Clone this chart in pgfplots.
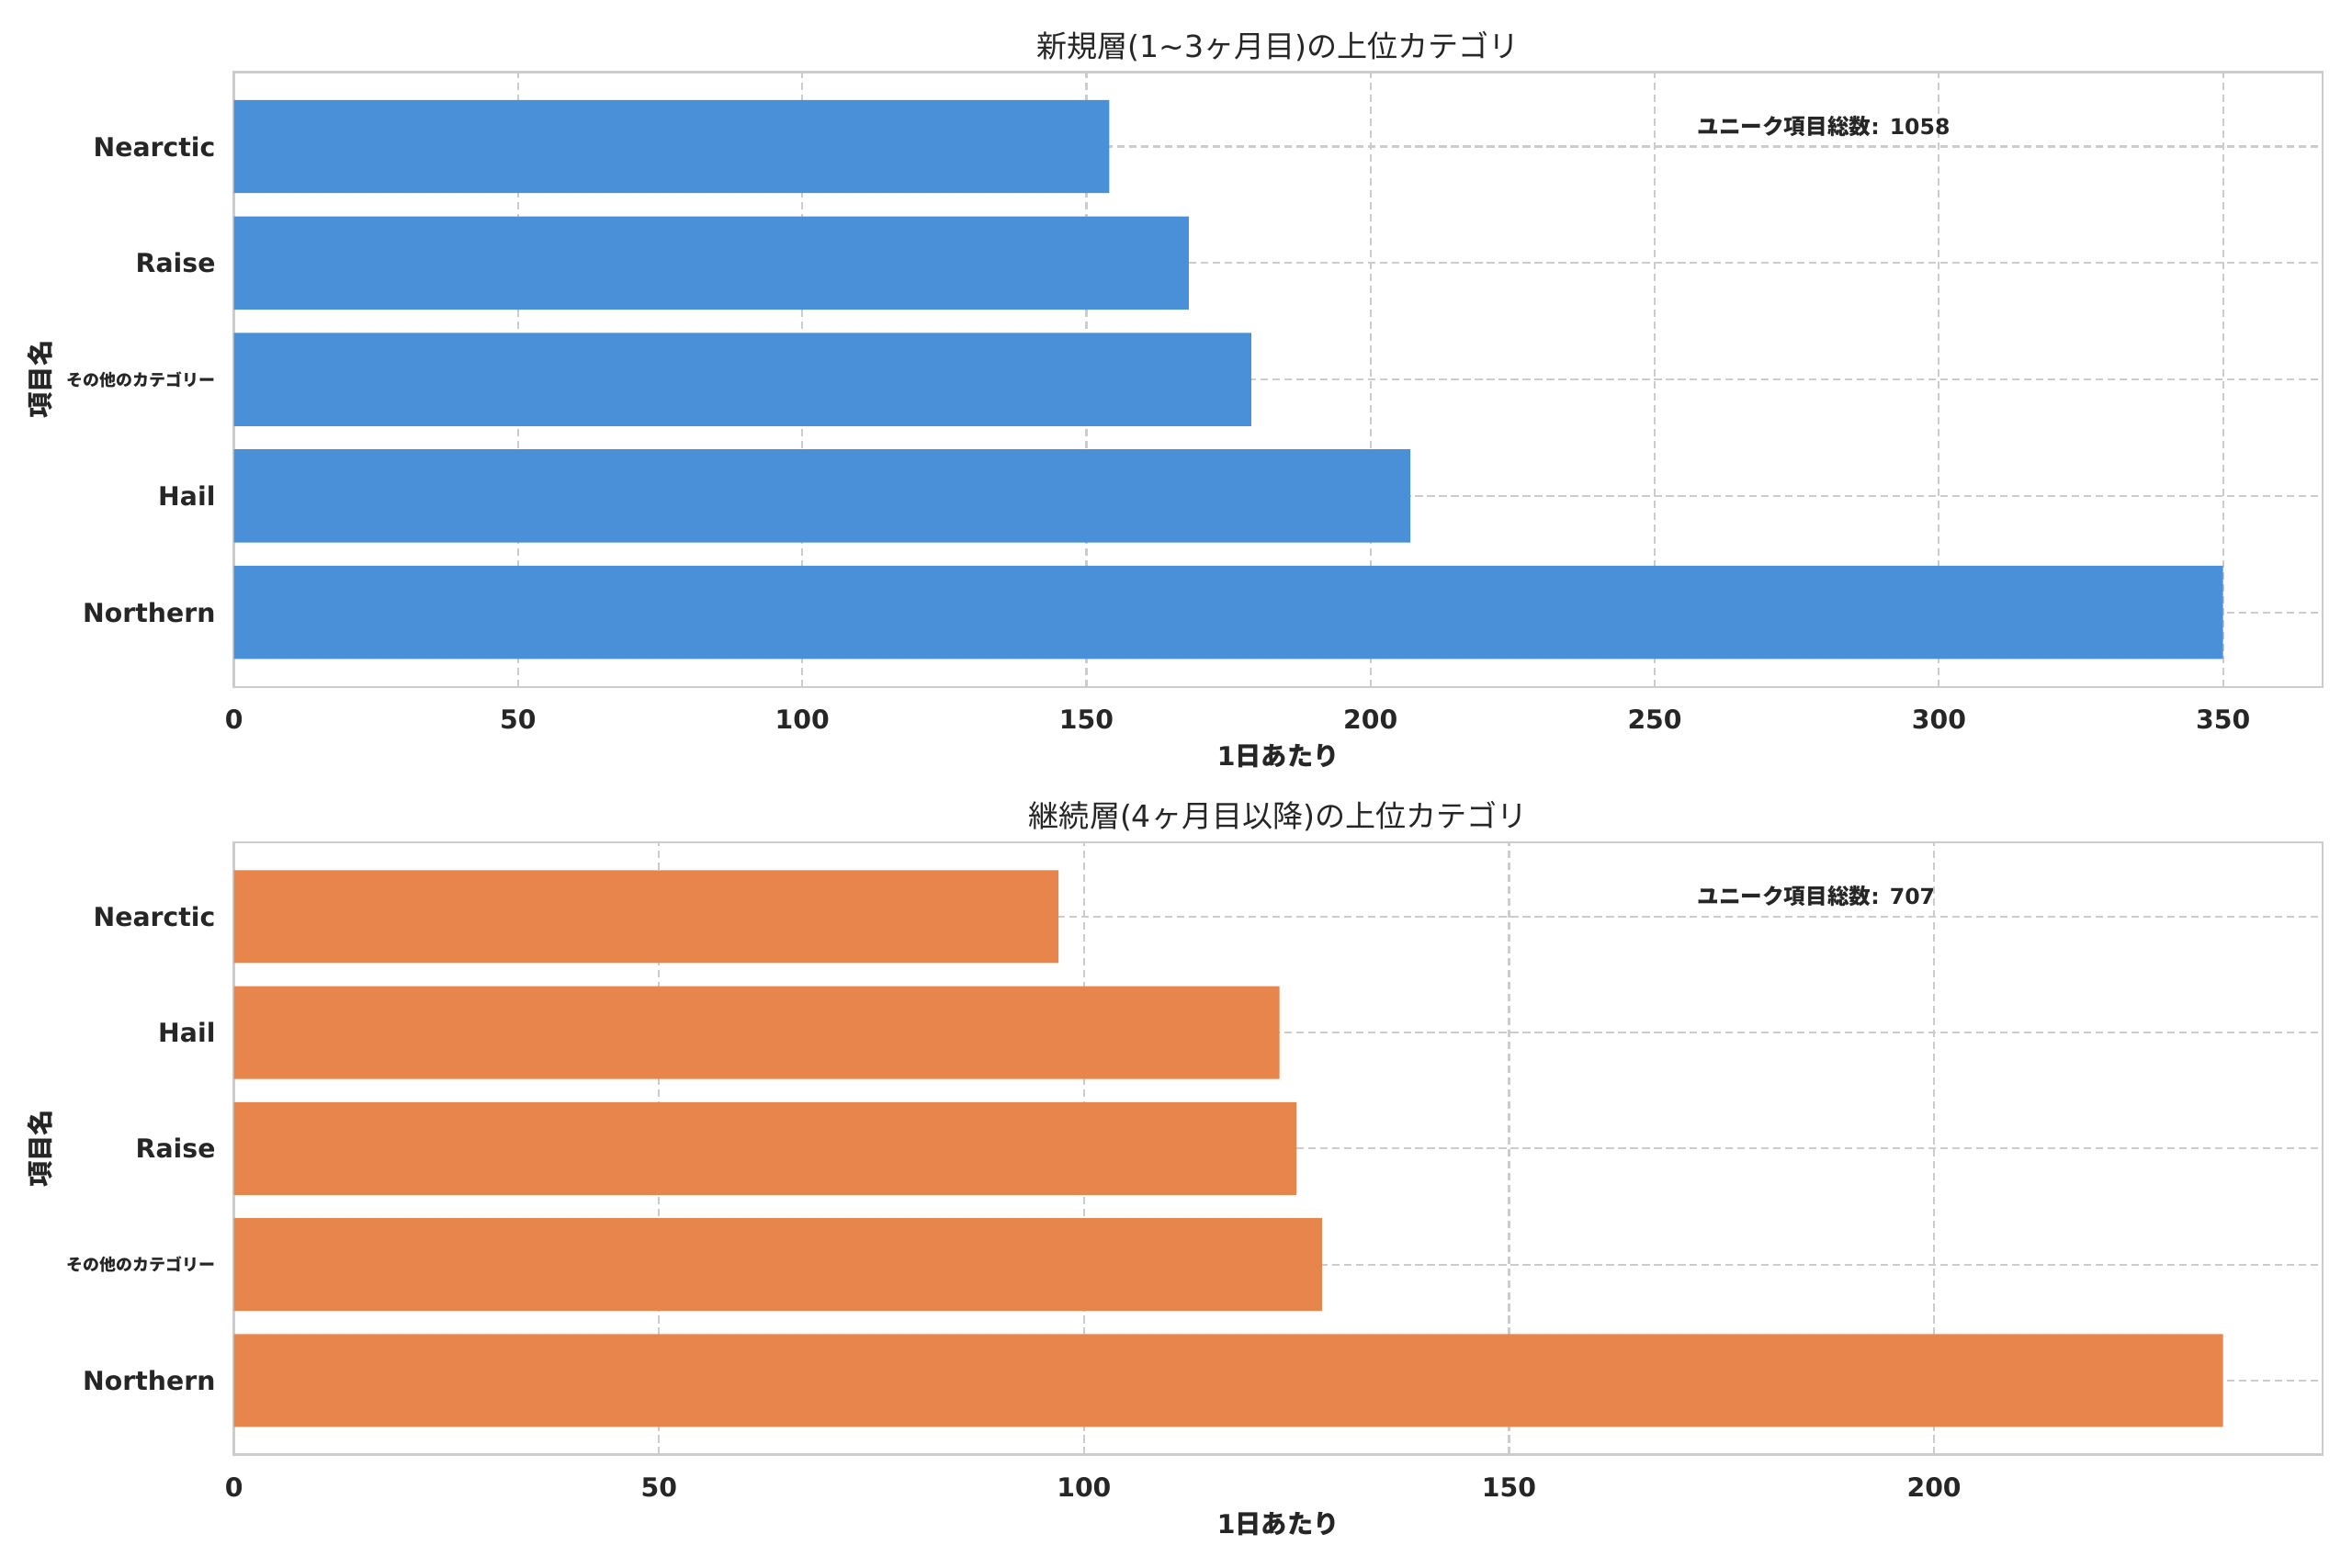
\documentclass[border=0pt]{standalone}
\usepackage{fontspec}
\setmainfont{DejaVu Sans}
\newfontfamily\cjk{Noto Sans CJK JP}
\usepackage{pgfplots}
\pgfplotsset{compat=1.18}
\definecolor{barblue}{HTML}{4A90D9}
\definecolor{barorange}{HTML}{E8854D}
\definecolor{txt}{HTML}{262626}
\definecolor{spine}{HTML}{CCCCCC}
\newcommand{\cjklab}{{\cjk\fontsize{7.6}{9}\selectfont その他のカテゴリー}}
\pgfplotsset{mystyle/.style={
  scale only axis, width=13.32in,
  xmin=0, ymin=-0.64, ymax=4.64,
  axis line style={spine, line width=1.1pt},
  major tick length=0pt,
  grid=major,
  major grid style={spine, line width=0.9pt, dash pattern=on 3.5pt off 2pt},
  tick label style={font=\fontsize{12}{14}\selectfont\bfseries, text=txt},
  /pgf/number format/assume math mode=true,
  yticklabel style={xshift=-5pt},
  xticklabel style={yshift=-7pt},
  ytick={0,1,2,3,4},
  xlabel style={font=\fontsize{12}{14}\selectfont\bfseries, text=txt, yshift=0pt},
  ylabel style={font=\fontsize{12}{14}\selectfont\bfseries, text=txt},
  title style={font=\fontsize{14}{16}\selectfont, text=txt, yshift=-4.5pt},
  xtick pos=bottom, ytick pos=left,
}}
\begin{document}
\begin{tikzpicture}
\useasboundingbox (0,0) rectangle (15in,10in);
\begin{axis}[mystyle, at={(1.492in,5.618in)}, anchor=south west, height=3.923in,
  xmax=367.5, xtick={0,50,...,350},
  yticklabels={Northern,Hail,\cjklab,Raise,Nearctic},
  title={{\cjk 新規層}(1\textasciitilde3{\cjk ヶ月目}){\cjk の上位カテゴリ}},
  xlabel={1{\cjk 日あたり}}, ylabel={\cjk 項目名}]
\addplot[xbar, bar width=0.8, bar shift=0pt, fill=barblue, draw=none] coordinates {
(350,0) (207,1) (179,2) (168,3) (154,4)};
\node[anchor=west, font=\fontsize{10}{12}\selectfont\bfseries, text=txt] at (rel axis cs:0.697,0.912) {{\cjk ユニーク項目総数}: 1058};
\end{axis}
\begin{axis}[mystyle, at={(1.492in,0.721in)}, anchor=south west, height=3.905in,
  xmax=245.7, xtick={0,50,...,200},
  yticklabels={Northern,\cjklab,Raise,Hail,Nearctic},
  title={{\cjk 継続層}(4{\cjk ヶ月目以降}){\cjk の上位カテゴリ}},
  xlabel={1{\cjk 日あたり}}, ylabel={\cjk 項目名}]
\addplot[xbar, bar width=0.8, bar shift=0pt, fill=barorange, draw=none] coordinates {
(234,0) (128,1) (125,2) (123,3) (97,4)};
\node[anchor=west, font=\fontsize{10}{12}\selectfont\bfseries, text=txt] at (rel axis cs:0.697,0.912) {{\cjk ユニーク項目総数}: 707};
\end{axis}
\end{tikzpicture}
\end{document}
